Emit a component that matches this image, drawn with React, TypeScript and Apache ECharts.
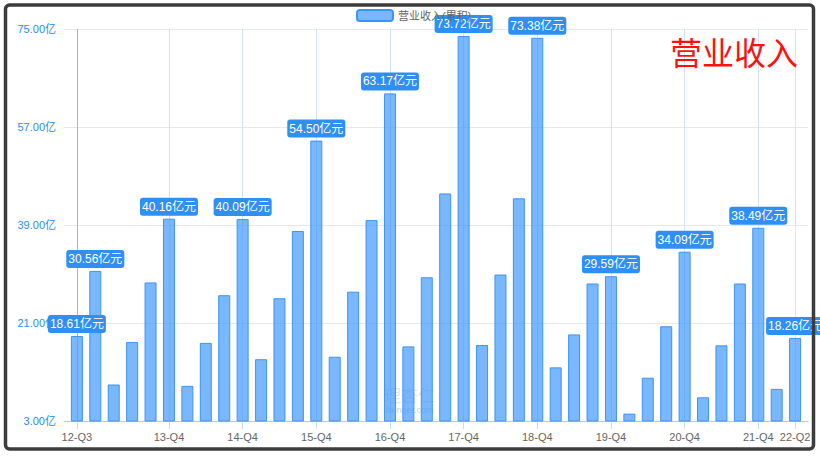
import React, { useEffect, useRef } from 'react';
import * as echarts from 'echarts';

const categories = [
  '12-Q3', '12-Q4',
  '13-Q1', '13-Q2', '13-Q3', '13-Q4',
  '14-Q1', '14-Q2', '14-Q3', '14-Q4',
  '15-Q1', '15-Q2', '15-Q3', '15-Q4',
  '16-Q1', '16-Q2', '16-Q3', '16-Q4',
  '17-Q1', '17-Q2', '17-Q3', '17-Q4',
  '18-Q1', '18-Q2', '18-Q3', '18-Q4',
  '19-Q1', '19-Q2', '19-Q3', '19-Q4',
  '20-Q1', '20-Q2', '20-Q3', '20-Q4',
  '21-Q1', '21-Q2', '21-Q3', '21-Q4',
  '22-Q1', '22-Q2',
];

// 营业收入(累积), 亿元
const revenue = [
  18.61, 30.56,
  9.7, 17.5, 28.45, 40.16,
  9.45, 17.35, 26.1, 40.09,
  14.35, 25.55, 37.9, 54.5,
  14.8, 26.75, 39.9, 63.17,
  16.7, 29.4, 44.8, 73.72,
  16.95, 29.9, 43.9, 73.38,
  12.85, 18.9, 28.25, 29.59,
  4.35, 10.95, 20.4, 34.09,
  7.35, 16.9, 28.25, 38.49,
  8.9, 18.26,
];

const labeledCategories = ['12-Q3', '12-Q4', '13-Q4', '14-Q4', '15-Q4', '16-Q4', '17-Q4', '18-Q4', '19-Q4', '20-Q4', '21-Q4', '22-Q2'];
const tickCategories = ['12-Q3', '13-Q4', '14-Q4', '15-Q4', '16-Q4', '17-Q4', '18-Q4', '19-Q4', '20-Q4', '21-Q4', '22-Q2'];

const yMin = 3;
const yMax = 75;
const yInterval = 18;

const seriesName = '营业收入(累积)';
const titleText = '营业收入';

export default function App() {
  const ref = useRef<HTMLDivElement>(null);

  useEffect(() => {
    if (!ref.current) return;
    const chart = echarts.init(ref.current, undefined, { renderer: 'svg' });

    const tickIdx = tickCategories.map((c) => categories.indexOf(c));
    const data = revenue.map((v, i) => ({
      value: [i, v],
      label: { show: labeledCategories.includes(categories[i]) },
    }));

    const markLineData = tickIdx.map((idx, k) => {
      let color = '#cfe2f9';
      if (k === 0) color = '#b4b4b4';
      if (k === tickIdx.length - 1) color = '#e3e3ea';
      return { xAxis: idx, lineStyle: { color, width: 1, type: 'solid' } };
    });

    const option: any = {
      animation: false,
      backgroundColor: '#ffffff',
      textStyle: { fontFamily: 'Arial, "Liberation Sans", "Noto Sans CJK SC", sans-serif' },
      title: {
        text: titleText,
        right: 22,
        top: 35,
        padding: 0,
        textStyle: {
          color: '#ff1010',
          fontSize: 32,
          fontWeight: 'normal',
          fontFamily: '"Noto Sans CJK SC", sans-serif',
        },
      },
      legend: {
        top: 4,
        left: 351,
        itemWidth: 36,
        itemHeight: 11,
        itemGap: 10,
        textStyle: { color: '#666', fontSize: 11 },
        data: [seriesName],
      },
      grid: { left: 64, right: 12, top: 29, bottom: 35 },
      xAxis: {
        type: 'value',
        min: -0.7,
        max: categories.length - 0.3,
        axisLine: { show: true, lineStyle: { color: '#c4c4c4' } },
        axisTick: {
          show: true,
          customValues: tickIdx,
          length: 8,
          lineStyle: { color: '#c9dcf2' },
        },
        axisLabel: {
          customValues: tickIdx,
          formatter: (v: number) => categories[Math.round(v)] ?? '',
          color: '#666',
          fontSize: 11,
          margin: 10,
        },
        splitLine: { show: false },
      },
      yAxis: {
        type: 'value',
        min: yMin,
        max: yMax,
        interval: yInterval,
        axisLine: { show: true, lineStyle: { color: '#dcdcdc' } },
        axisTick: { show: false },
        axisLabel: {
          formatter: (v: number) => v.toFixed(2) + '亿',
          color: '#2a8cf0',
          fontSize: 11,
          margin: 8,
        },
        splitLine: { show: true, lineStyle: { color: '#e8e8e8' } },
      },
      series: [
        {
          name: seriesName,
          type: 'bar',
          barWidth: 12,
          data,
          itemStyle: {
            color: 'rgba(64,152,255,0.7)',
            borderColor: '#3d94f6',
            borderWidth: 1,
          },
          label: {
            show: false,
            position: 'top',
            distance: 3,
            formatter: (p: any) => Number(p.value[1]).toFixed(2) + '亿元',
            color: '#fff',
            fontSize: 12,
            lineHeight: 14,
            backgroundColor: '#2f8ff5',
            borderRadius: 3,
            padding: [2, 2, 2, 2],
          },
          markLine: {
            silent: true,
            symbol: ['none', 'none'],
            label: { show: false },
            data: markLineData,
            z: 1,
          },
        },
      ],
      graphic: [
        {
          type: 'group',
          left: 384,
          top: 386,
          silent: true,
          children: [
            {
              type: 'text',
              x: 0,
              y: 0,
              style: {
                text: '理杏仁',
                fontSize: 17,
                fill: 'rgba(170,180,190,0.35)',
                fontFamily: '"Noto Sans CJK SC", sans-serif',
              },
            },
            {
              type: 'text',
              x: 2,
              y: 19,
              style: {
                text: 'lixinger.com',
                fontSize: 9,
                fill: 'rgba(90,150,220,0.45)',
              },
            },
          ],
        },
        {
          type: 'rect',
          z: 100,
          silent: true,
          shape: { x: 5.5, y: 5, width: 808, height: 444, r: 4 },
          style: { fill: 'none', stroke: '#3c3c3c', lineWidth: 3.5 },
        },
      ],
    };

    chart.setOption(option);
    return () => chart.dispose();
  }, []);

  return (
    <div
      ref={ref}
      style={{ position: 'absolute', left: 0, top: 0, width: 820, height: 456, background: '#fff' }}
    />
  );
}
